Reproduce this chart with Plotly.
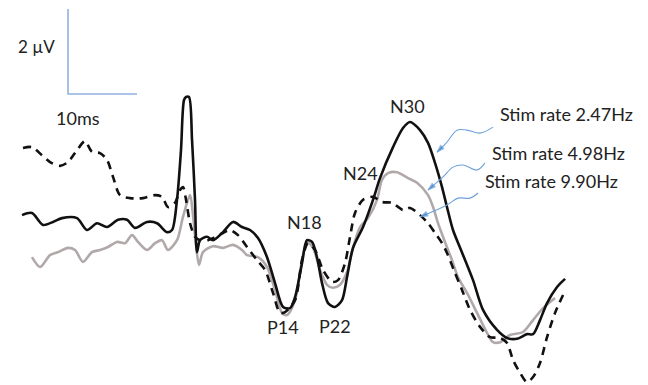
import plotly.graph_objects as go

# Time (ms) and amplitude (µV) samples for each stimulation rate
t_247 = [0.29, 1.74, 3.33, 4.78, 6.09, 8.26, 9.71, 11.16, 12.61, 14.20, 15.51, 16.67, 18.41, 19.86,
         21.30, 22.03, 22.75, 23.33, 23.77, 24.06, 24.49, 24.93, 25.36, 25.65, 26.09, 27.10, 27.97,
         29.42, 30.87, 32.17, 33.33, 34.49, 35.80, 36.96, 38.12, 39.13, 39.86, 40.87, 41.59, 42.32,
         43.04, 43.77, 44.64, 45.65, 46.67, 47.39, 48.26, 49.71, 51.16, 52.17, 54.06, 55.51, 56.52,
         57.97, 59.13, 60.14, 61.16, 61.88, 62.75, 63.91, 65.65, 67.10, 69.13, 70.58, 72.03, 73.48,
         74.35, 75.36, 76.38, 77.83, 78.99]
v_247 = [0.35, 0.40, 0.12, 0.19, 0.28, 0.28, 0.00, 0.16, 0.07, 0.24, 0.24, 0.05, 0.19, 0.16,
         -0.05, 0.00, 0.71, 1.88, 3.06, 3.13, 3.13, 2.12, 0.71, -0.52, -0.24, -0.16, -0.24,
         -0.05, 0.19, 0.07, 0.00, -0.19, -0.64, -1.25, -1.81, -1.84, -1.58, -0.78, -0.24, -0.28,
         -0.64, -1.25, -1.72, -1.81, -1.65, -1.11, -0.42, 0.07, 0.71, 1.22, 1.95, 2.40, 2.54,
         2.35, 2.05, 1.58, 1.01, 0.54, 0.00, -0.47, -1.18, -1.88, -2.35, -2.54, -2.56, -2.45,
         -2.45, -2.12, -1.72, -1.34, -1.15]

t_498 = [1.74, 2.90, 4.35, 5.51, 6.96, 7.97, 9.13, 10.43, 11.59, 12.75, 14.06, 15.22, 16.23, 17.10,
         18.41, 19.57, 20.58, 21.45, 22.75, 23.62, 24.64, 25.07, 25.51, 25.94, 26.52, 27.97, 29.42,
         30.87, 32.17, 32.90, 34.49, 35.80, 36.96, 37.97, 38.70, 39.86, 40.87, 41.59, 42.46, 43.48,
         44.49, 45.36, 46.38, 47.39, 48.26, 49.28, 50.43, 51.74, 52.46, 53.33, 54.64, 56.23, 57.54,
         59.13, 59.86, 60.58, 61.30, 62.03, 62.61, 63.48, 64.78, 66.23, 67.68, 68.55, 69.57, 71.01,
         72.90, 74.35, 75.80, 77.54]
v_498 = [-0.64, -0.87, -0.59, -0.52, -0.42, -0.47, -0.75, -0.52, -0.47, -0.40, -0.28, -0.31, -0.12, -0.28,
         -0.47, -0.31, -0.24, -0.47, -0.24, 0.31, 0.82, 0.35, -0.35, -0.82, -0.52, -0.38, -0.42,
         -0.35, -0.47, -0.59, -0.64, -0.87, -1.41, -1.95, -2.00, -1.65, -0.71, -0.28, -0.42, -0.94,
         -1.29, -1.36, -1.29, -0.99, -0.42, 0.07, 0.28, 0.71, 1.18, 1.34, 1.36, 1.22, 1.11,
         0.82, 0.54, 0.16, -0.16, -0.47, -0.71, -1.11, -1.48, -1.95, -2.42, -2.64, -2.64, -2.47,
         -2.40, -2.12, -1.84, -1.60]

t_990 = [0.43, 1.74, 3.19, 4.35, 5.80, 6.96, 8.26, 9.42, 10.43, 11.59, 12.61, 13.48, 14.49, 15.94,
         17.83, 19.57, 20.58, 21.45, 22.46, 23.19, 23.62, 24.06, 24.64, 25.36, 26.09, 27.25, 27.97,
         29.42, 30.43, 31.59, 32.90, 34.35, 35.51, 36.67, 37.68, 38.41, 39.86, 40.87, 41.74, 42.75,
         43.91, 45.22, 46.09, 47.10, 47.83, 48.55, 49.71, 51.16, 52.46, 53.91, 55.51, 56.52, 57.97,
         59.13, 60.14, 61.16, 61.88, 63.04, 64.06, 65.22, 66.67, 68.12, 69.57, 70.58, 71.45, 72.46,
         73.48, 74.35, 75.36, 76.38, 77.54, 78.70]
v_990 = [1.93, 1.95, 1.76, 1.60, 1.51, 1.60, 1.88, 2.09, 1.84, 1.81, 1.65, 1.25, 0.82, 0.75,
         0.75, 0.82, 0.78, 0.54, 0.64, 0.94, 1.01, 0.71, 0.16, -0.16, -0.24, -0.24, -0.19,
         -0.07, 0.00, -0.12, -0.40, -0.71, -0.94, -1.48, -1.95, -1.93, -1.65, -0.71, -0.31, -0.47,
         -0.94, -1.22, -1.18, -0.78, -0.16, 0.40, 0.71, 0.78, 0.66, 0.64, 0.47, 0.52, 0.35,
         0.16, -0.07, -0.31, -0.54, -1.01, -1.41, -1.88, -2.28, -2.52, -2.54, -2.66, -3.06, -3.36,
         -3.58, -3.46, -3.13, -2.52, -1.95, -1.53]

# Peak labels
peak_names = ["N30", "N24", "N18", "P14", "P22"]
peak_t = [56.1, 49.4, 41.3, 38.1, 45.7]
peak_v = [2.92, 1.34, 0.19, -2.28, -2.26]

# Series labels with callout arrows
series_names = ["Stim rate 2.47Hz", "Stim rate 4.98Hz", "Stim rate 9.90Hz"]
label_t = [69.3, 68.1, 67.1]
label_v = [2.73, 1.82, 1.16]
arrow_t = [[68.55, 66.67, 64.78, 63.33, 61.88, 60.43],
           [67.39, 66.23, 64.20, 62.75, 61.30, 59.13],
           [66.38, 65.22, 63.48, 61.88, 58.0]]
arrow_v = [[2.42, 2.28, 2.35, 2.35, 2.07, 1.83],
           [1.58, 1.41, 1.53, 1.48, 1.25, 0.94],
           [0.87, 0.75, 0.75, 0.59, 0.31]]

# Scale bar: 10 ms x 2 µV
bar_t = [6.96, 6.96, 16.96]
bar_v = [5.20, 3.20, 3.20]

FONT = "Lato"
TXT = "#222222"
fig = go.Figure()
fig.add_trace(go.Scatter(x=t_498, y=v_498, mode="lines",
                         line=dict(color="#b1a9a9", width=2.6, shape="spline", smoothing=0.8)))
fig.add_trace(go.Scatter(x=t_990, y=v_990, mode="lines",
                         line=dict(color="#111111", width=2.6, dash="8px,6px", shape="spline", smoothing=0.8)))
fig.add_trace(go.Scatter(x=t_247, y=v_247, mode="lines",
                         line=dict(color="#111111", width=2.6, shape="spline", smoothing=0.8)))

fig.add_trace(go.Scatter(x=bar_t, y=bar_v, mode="lines", line=dict(color="#8fb3e0", width=1.6)))

for ax_t, ax_v in zip(arrow_t, arrow_v):
    sizes = [0] * (len(ax_t) - 1) + [8]
    fig.add_trace(go.Scatter(x=ax_t, y=ax_v, mode="lines+markers",
                             line=dict(color="#6fa3dc", width=1.1, shape="spline", smoothing=1),
                             marker=dict(symbol="arrow", size=sizes, color="#3f7fcf", angleref="previous")))

for name, x, y in zip(peak_names, peak_t, peak_v):
    fig.add_annotation(x=x, y=y, text=name, showarrow=False,
                       font=dict(family=FONT, size=18, color=TXT))

for name, x, y in zip(series_names, label_t, label_v):
    fig.add_annotation(x=x, y=y, text=name, showarrow=False, xanchor="left",
                       font=dict(family=FONT, size=18, color=TXT))

fig.add_annotation(x=2.46, y=4.31, text="2 µV", showarrow=False,
                   font=dict(family=FONT, size=17, color=TXT))
fig.add_annotation(x=8.41, y=2.64, text="10ms", showarrow=False,
                   font=dict(family=FONT, size=18, color=TXT))

fig.update_layout(width=648, height=385, margin=dict(l=0, r=0, t=0, b=0),
                  paper_bgcolor="white", plot_bgcolor="white", showlegend=False,
                  hovermode=False)
fig.update_xaxes(range=[-2.899, 91.01], visible=False)
fig.update_yaxes(range=[-3.647, 5.412], visible=False)
fig.write_html("out.html", config={"displayModeBar": False},
               post_script="document.body.style.margin='0px';document.body.style.padding='0px';")
